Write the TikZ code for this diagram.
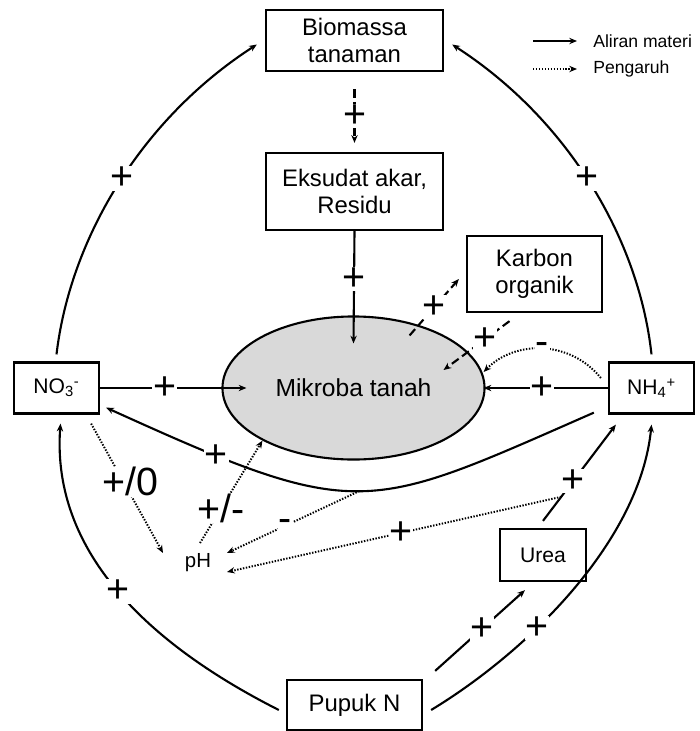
\documentclass[tikz,border=0pt]{standalone}
\usepackage{fontspec}
\setmainfont{Liberation Sans}
\usetikzlibrary{arrows.meta,shapes.geometric,calc}
\definecolor{mikgray}{HTML}{D9D9D9}

\begin{document}
\begin{tikzpicture}[x=0.025cm,y=-0.025cm,>={Stealth[length=5.5pt,width=4.5pt]},
  box/.style={draw,line width=1.6pt,align=center,inner sep=0pt,font=\fontsize{17}{19}\selectfont},
  smallbox/.style={box,font=\fontsize{15}{17}\selectfont},
  legtext/.style={anchor=west,inner sep=0pt,font=\fontsize{12.5}{14}\selectfont},
  flow/.style={line width=1.5pt,->},
  dashflow/.style={flow,dash pattern=on 6pt off 3pt},
  infl/.style={line width=1.4pt,->,dash pattern=on 1pt off 1.1pt},
  sgn/.style={fill=white,inner sep=0.5pt,font=\fontsize{28}{28}\selectfont}]
  \useasboundingbox (0,0) rectangle (699,731);
  \node[box,minimum width=4.425cm,minimum height=1.525cm] (bio) at (354.5,40.5) {Biomassa\\tanaman};
  \node[box,minimum width=4.425cm,minimum height=1.925cm] (eks) at (354.5,191.5) {Eksudat akar,\\Residu};
  \node[box,minimum width=3.375cm,minimum height=1.9cm] (kar) at (534.5,274) {Karbon\\organik};
  \node[ellipse,draw,fill=mikgray,line width=1.5pt,minimum width=6.55cm,minimum height=3.575cm,
    font=\fontsize{17.5}{19}\selectfont] (mik) at (353.5,388) {Mikroba tanah};
  \node[smallbox,minimum width=2.125cm,minimum height=1.275cm] (no3) at (56.5,388) {NO\textsubscript{3}\textsuperscript{-}};
  \node[smallbox,minimum width=2.125cm,minimum height=1.275cm] (nh4) at (651.5,388) {NH\textsubscript{4}\textsuperscript{+}};
  \node[smallbox,minimum width=2.15cm,minimum height=1.3cm] (urea) at (543,555) {Urea};
  \node[box,minimum width=3.375cm,minimum height=1.25cm] (pupuk) at (354.5,705) {Pupuk N};
  \node[inner sep=1pt,font=\fontsize{14.5}{16}\selectfont] (ph) at (198,563) {pH};
  \node[legtext] (lmat) at (593,41) {Aliran materi};
  \node[legtext] (lpeng) at (593,69) {Pengaruh};
  \draw[flow] ($(lmat.west)+(-60,0)$) -- ($(lmat.west)+(-16,0)$);
  \draw[infl] ($(lpeng.west)+(-60,0)$) -- ($(lpeng.west)+(-16,0)$);

  \draw[dashflow] ($(bio.south)+(0,17)$) -- node[sgn]{+} ($(eks.north)+(0,-9)$);
  \draw[flow] (eks.south) -- node[sgn,pos=.43]{+} ($(mik.north)+(0,28)$);
  \draw[dashflow] ($(mik.43)+(-11,10)$) -- node[sgn]{+} ($(kar.west)+(-7,5)$);
  \draw[dashflow] ($(kar.south)+(-25,8)$) -- node[sgn,pos=.37]{+} ($(mik)+(90,-18)$);
  \draw[infl] ($(nh4.west)+(-7,-10)$) .. controls (570,340) and (515,340) .. ($(mik.east)+(-2,-16)$)
    node[sgn,pos=.5]{-};
  \draw[flow] (nh4.west) -- node[sgn,pos=.53]{+} ($(mik.east)+(-2,0)$);
  \draw[flow] (no3.east) -- node[sgn,pos=.44]{+} ($(mik.west)+(25,0)$);
  \draw[flow] ($(nh4.south west)+(-14,-2)$) .. controls (365,513) and (360,523) .. ($(no3.south east)+(6,-7)$)
    node[sgn,pos=.83]{+} coordinate[pos=.5] (low);

  \draw[infl] ($(no3.south east)+(-9,9)$) -- node[sgn,pos=.45,xshift=0.17cm]{+/0} ($(ph)+(-35,-10)$);
  \draw[infl] ($(ph)+(2,-20)$) -- node[sgn,pos=.34]{+/-} (mik.210);
  \draw[infl] (low) -- node[sgn,pos=.56]{-} ($(ph)+(29,-10)$);

  \draw[flow] ($(urea.north)+(0,-7)$) -- node[sgn,pos=.41]{+} coordinate[pos=.25] (ur) ($(nh4.south west)+(8,10)$);
  \draw[infl] (ur) -- node[sgn,pos=.48]{+} ($(ph)+(29,9)$);
  \draw[flow] ($(pupuk.north east)+(12,-8)$) -- node[sgn,pos=.52]{+} ($(urea.south)+(-18,8)$);
  \draw[flow] ($(pupuk.east)+(8,5)$) .. controls (530,650) and (640,540) .. ($(nh4.south)+(0,10)$)
    node[sgn,pos=.36]{+};
  \draw[flow] ($(pupuk.west)+(-7,5)$) .. controls (180,660) and (50,570) .. ($(no3.south)+(4,9)$)
    node[sgn,pos=.54]{+};
  \draw[flow] ($(no3.north)+(0,-7)$) .. controls (70,240) and (140,120) .. ($(bio.west)+(-8,4)$)
    node[sgn,pos=.52]{+};
  \draw[flow] ($(nh4.north)+(0,-7)$) .. controls (639,240) and (569,120) .. ($(bio.east)+(8,4)$)
    node[sgn,pos=.52]{+};
\end{tikzpicture}
\end{document}
